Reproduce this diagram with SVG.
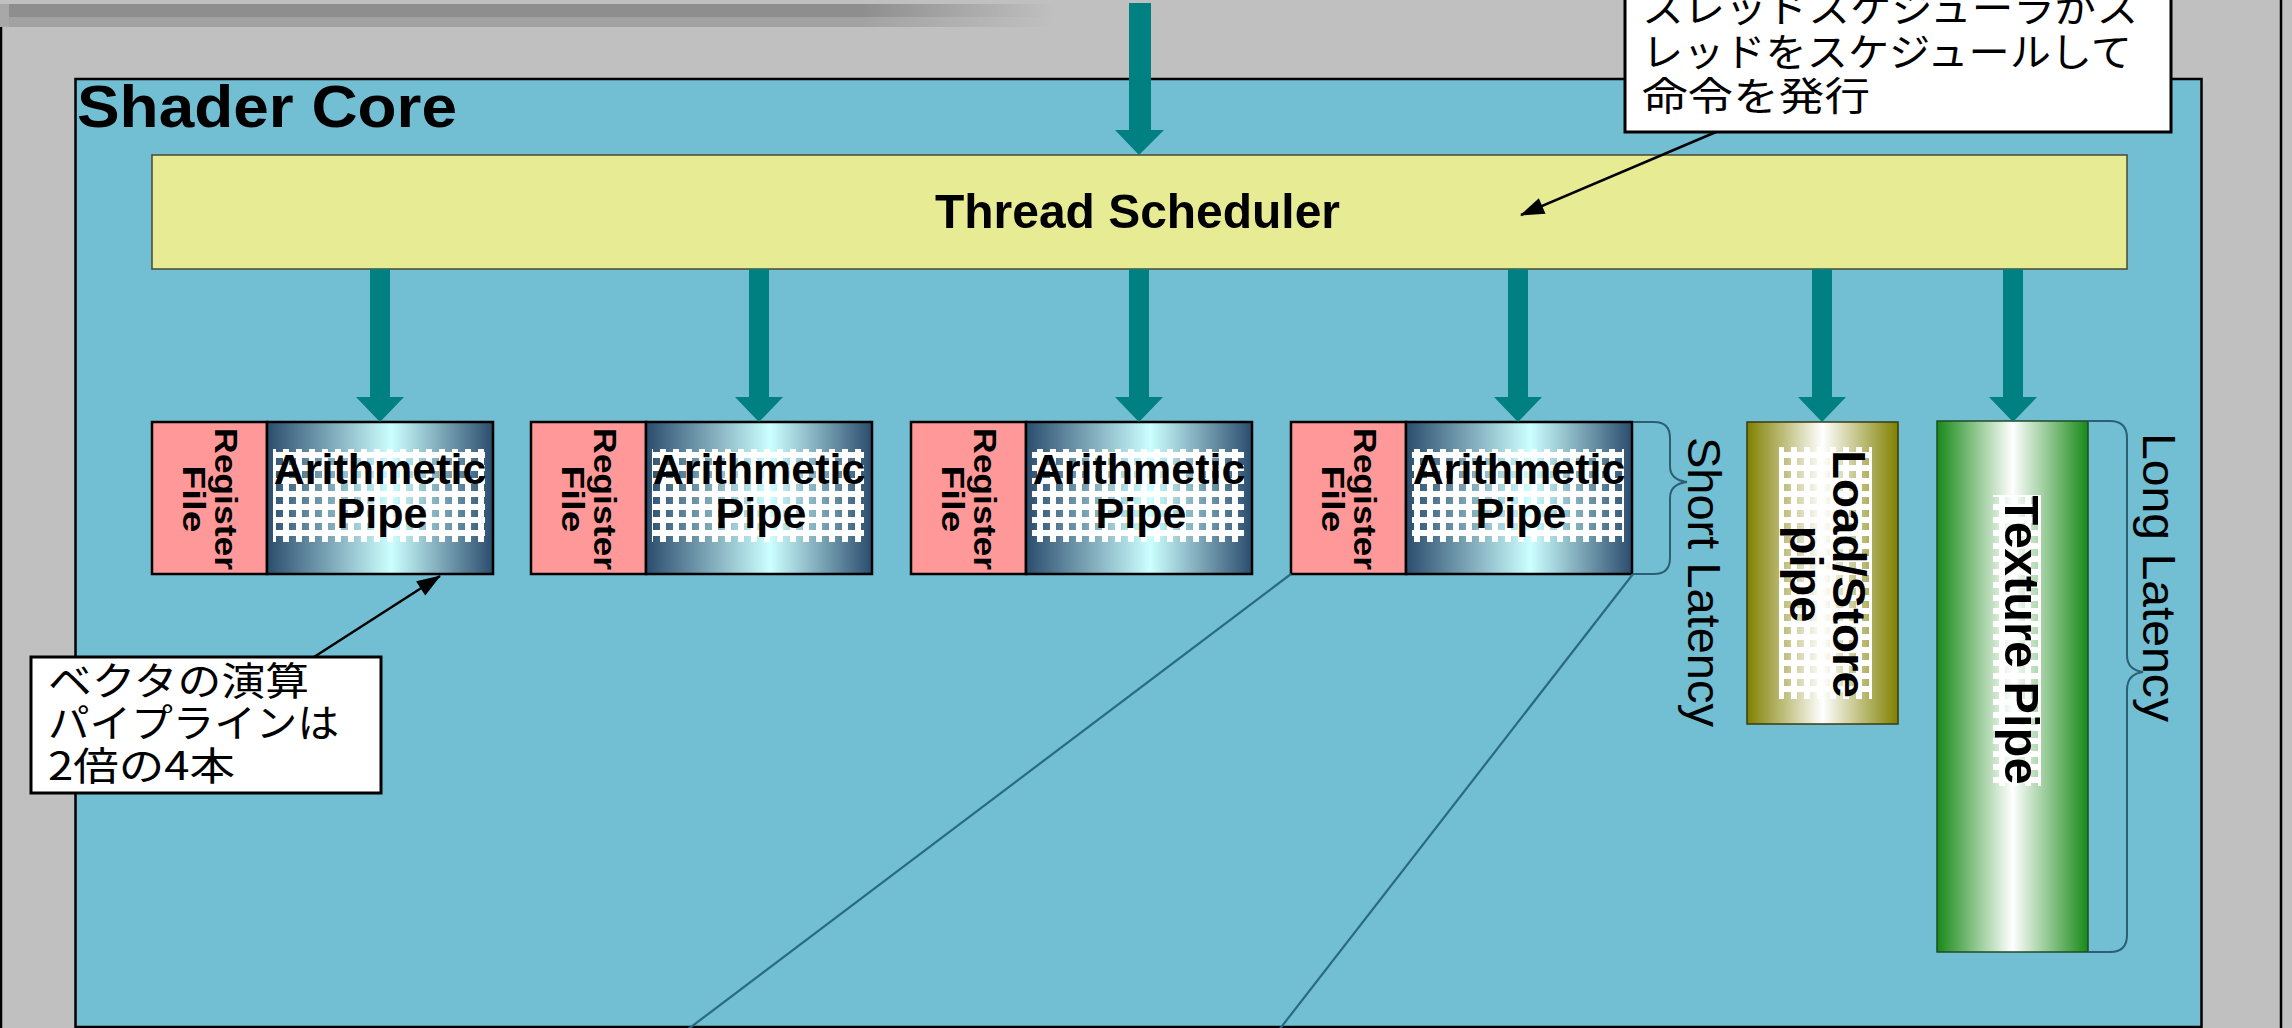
<svg xmlns="http://www.w3.org/2000/svg" width="2292" height="1028" viewBox="0 0 2292 1028">
<style>
.lat{font-family:"Liberation Sans",Arial,sans-serif;font-size:47px;fill:#000}
.b{font-family:"Liberation Sans",Arial,sans-serif;font-weight:bold;fill:#000}
.jp{font-family:"Noto Sans CJK JP",sans-serif;font-size:39px;fill:#000}
.reg{fill:#ff9999;stroke:#000;stroke-width:2.5}
.ap{fill:url(#gArith);stroke:#000;stroke-width:2.5}
.chk{fill:url(#pChk)}
.arr{fill:#008080}
.brace{fill:none;stroke:#2d5f73;stroke-width:2}
.diag{stroke:#2a6b7e;stroke-width:2.2;fill:none}
.call{fill:#fff;stroke:#000;stroke-width:3}
.cl{stroke:#000;stroke-width:2.5;fill:none;marker-end:url(#mHead)}
</style>
<defs>
<linearGradient id="gArith" x1="0" y1="0" x2="1" y2="0">
<stop offset="0" stop-color="#2b4d6e"/><stop offset="0.55" stop-color="#ccffff"/><stop offset="1" stop-color="#2b4d6e"/>
</linearGradient>
<linearGradient id="gLS" x1="0" y1="0" x2="1" y2="0">
<stop offset="0" stop-color="#808000"/><stop offset="0.5" stop-color="#ffffff"/><stop offset="1" stop-color="#808000"/>
</linearGradient>
<linearGradient id="gTex" x1="0" y1="0" x2="1" y2="0">
<stop offset="0" stop-color="#178a17"/><stop offset="0.5" stop-color="#ffffff"/><stop offset="1" stop-color="#178a17"/>
</linearGradient>
<linearGradient id="gBarW" x1="0" y1="0" x2="1" y2="0">
<stop offset="0" stop-color="#fff"/><stop offset="0.82" stop-color="#fff"/><stop offset="1" stop-color="#000"/>
</linearGradient>
<mask id="mBar"><rect x="0" y="0" width="1053" height="30" fill="url(#gBarW)"/></mask>
<pattern id="pChk" x="0" y="0" width="13" height="13" patternUnits="userSpaceOnUse">
<path d="M0 0H13V13H0Z M3 3V10H10V3Z" fill="#fff" fill-rule="evenodd"/>
</pattern>
<marker id="mHead" viewBox="0 0 10 10" refX="9" refY="5" markerWidth="10" markerHeight="10" markerUnits="userSpaceOnUse" orient="auto" overflow="visible">
<path d="M0 0L10 5L0 10Z" fill="#000" transform="translate(-14,-3.5) scale(2.4,1.7)"/>
</marker>
</defs>

<g id="background">
<rect x="0" y="0" width="2292" height="1028" fill="#c0c0c0"/>
<g mask="url(#mBar)">
<rect x="0" y="4" width="1053" height="13" fill="#8e8e8e"/>
<rect x="0" y="17" width="1053" height="10" fill="#a2a2a2"/>
<rect x="0" y="4" width="9" height="23" fill="#a8a8a8"/>
</g>
<line x1="1" y1="27" x2="1" y2="1028" stroke="#000" stroke-width="2.5"/>
<line x1="2281" y1="0" x2="2281" y2="1028" stroke="#000" stroke-width="2.5"/>
</g>

<g id="shader-core">
<rect x="75.5" y="79" width="2126" height="948" fill="#72bed3" stroke="#000" stroke-width="2.5"/>
<text class="b" x="77" y="127" font-size="60" textLength="380" lengthAdjust="spacingAndGlyphs">Shader Core</text>
</g>

<g id="thread-scheduler">
<rect x="152" y="155" width="1975" height="114" fill="#e7eb94" stroke="#4a4a30" stroke-width="1.5"/>
<text class="b" x="935" y="228" font-size="49" textLength="405" lengthAdjust="spacingAndGlyphs">Thread Scheduler</text>
</g>

<g id="unit-1">
<rect class="reg" x="152" y="422" width="115" height="152"/>
<rect class="ap" x="267" y="422" width="226" height="152"/>
<rect class="chk" x="273" y="449" width="212" height="93"/>
<text class="b" font-size="32" transform="translate(215,499) rotate(90)" text-anchor="middle"><tspan x="0" y="0" textLength="142" lengthAdjust="spacingAndGlyphs">Register</tspan><tspan x="0" y="32" textLength="67" lengthAdjust="spacingAndGlyphs">File</tspan></text>
<text class="b" font-size="43" text-anchor="middle"><tspan x="380" y="484">Arithmetic</tspan><tspan x="382" y="528">Pipe</tspan></text>
</g>
<g id="unit-2">
<rect class="reg" x="531" y="422" width="115" height="152"/>
<rect class="ap" x="646" y="422" width="226" height="152"/>
<rect class="chk" x="652" y="449" width="212" height="93"/>
<text class="b" font-size="32" transform="translate(594,499) rotate(90)" text-anchor="middle"><tspan x="0" y="0" textLength="142" lengthAdjust="spacingAndGlyphs">Register</tspan><tspan x="0" y="32" textLength="67" lengthAdjust="spacingAndGlyphs">File</tspan></text>
<text class="b" font-size="43" text-anchor="middle"><tspan x="759" y="484">Arithmetic</tspan><tspan x="761" y="528">Pipe</tspan></text>
</g>
<g id="unit-3">
<rect class="reg" x="911" y="422" width="115" height="152"/>
<rect class="ap" x="1026" y="422" width="226" height="152"/>
<rect class="chk" x="1032" y="449" width="212" height="93"/>
<text class="b" font-size="32" transform="translate(974,499) rotate(90)" text-anchor="middle"><tspan x="0" y="0" textLength="142" lengthAdjust="spacingAndGlyphs">Register</tspan><tspan x="0" y="32" textLength="67" lengthAdjust="spacingAndGlyphs">File</tspan></text>
<text class="b" font-size="43" text-anchor="middle"><tspan x="1139" y="484">Arithmetic</tspan><tspan x="1141" y="528">Pipe</tspan></text>
</g>
<g id="unit-4">
<rect class="reg" x="1291" y="422" width="115" height="152"/>
<rect class="ap" x="1406" y="422" width="226" height="152"/>
<rect class="chk" x="1412" y="449" width="212" height="93"/>
<text class="b" font-size="32" transform="translate(1354,499) rotate(90)" text-anchor="middle"><tspan x="0" y="0" textLength="142" lengthAdjust="spacingAndGlyphs">Register</tspan><tspan x="0" y="32" textLength="67" lengthAdjust="spacingAndGlyphs">File</tspan></text>
<text class="b" font-size="43" text-anchor="middle"><tspan x="1519" y="484">Arithmetic</tspan><tspan x="1521" y="528">Pipe</tspan></text>
</g>

<g id="load-store-pipe">
<rect x="1747" y="422" width="151" height="302" fill="url(#gLS)" stroke="#3a3a10" stroke-width="1.5"/>
<rect class="chk" x="1779" y="447" width="93" height="252"/>
<text class="b" font-size="47" transform="translate(0,574) rotate(90)" text-anchor="middle"><tspan x="0" y="-1833" textLength="248" lengthAdjust="spacingAndGlyphs">Load/Store</tspan><tspan x="0" y="-1790">pipe</tspan></text>
</g>

<g id="texture-pipe">
<rect x="1937" y="421" width="151" height="531" fill="url(#gTex)" stroke="#1f4a2a" stroke-width="1.5"/>
<rect class="chk" x="1993" y="495" width="48" height="291"/>
<text class="b" font-size="48" transform="translate(2005,640) rotate(90)" text-anchor="middle" textLength="289" lengthAdjust="spacingAndGlyphs">Texture Pipe</text>
</g>

<g id="latency-labels">
<path class="brace" d="M1633 422H1654Q1670 422 1670 438V466Q1670 480 1687 482Q1670 484 1670 498V558Q1670 574 1654 574H1633"/>
<text class="lat" transform="translate(1688,437) rotate(90)" textLength="290" lengthAdjust="spacingAndGlyphs">Short Latency</text>
<path class="brace" d="M2088 421H2110Q2127 421 2127 438V655Q2127 670 2143 672Q2127 674 2127 690V935Q2127 952 2110 952H2088"/>
<text class="lat" transform="translate(2143,433) rotate(90)" textLength="289" lengthAdjust="spacingAndGlyphs">Long Latency</text>
</g>

<g id="connectors">
<path class="arr" d="M1129 3H1151V130H1164L1139 155L1115 130H1129Z"/>
<path class="arr" d="M370 269H390V397H404L380 422L356 397H370Z"/>
<path class="arr" d="M749 269H769V397H783L759 422L735 397H749Z"/>
<path class="arr" d="M1129 269H1149V397H1163L1139 422L1115 397H1129Z"/>
<path class="arr" d="M1508 269H1528V397H1542L1518 422L1494 397H1508Z"/>
<path class="arr" d="M1812 269H1832V397H1846L1822 422L1798 397H1812Z"/>
<path class="arr" d="M2003 269H2023V397H2037L2013 422L1989 397H2003Z"/>
<line class="diag" x1="1291" y1="574" x2="687" y2="1030"/>
<line class="diag" x1="1633" y1="574" x2="1279" y2="1030"/>
<line class="cl" x1="1716" y1="132" x2="1521" y2="215"/>
<line class="cl" x1="314" y1="657" x2="440" y2="576"/>
</g>

<g id="callout-scheduler">
<rect class="call" x="1625" y="-50" width="546" height="182"/>
<text class="jp"><tspan x="1642" y="22" textLength="496" lengthAdjust="spacingAndGlyphs">スレッドスケジューラがス</tspan><tspan x="1642" y="66" textLength="490" lengthAdjust="spacingAndGlyphs">レッドをスケジュールして</tspan><tspan x="1642" y="110" textLength="228" lengthAdjust="spacingAndGlyphs">命令を発行</tspan></text>
</g>

<g id="callout-vector">
<rect class="call" x="31" y="657" width="350" height="136"/>
<text class="jp"><tspan x="48" y="695" textLength="261" lengthAdjust="spacingAndGlyphs">ベクタの演算</tspan><tspan x="48" y="737" textLength="291" lengthAdjust="spacingAndGlyphs">パイプラインは</tspan><tspan x="48" y="780" textLength="187" lengthAdjust="spacingAndGlyphs">2倍の4本</tspan></text>
</g>
</svg>
